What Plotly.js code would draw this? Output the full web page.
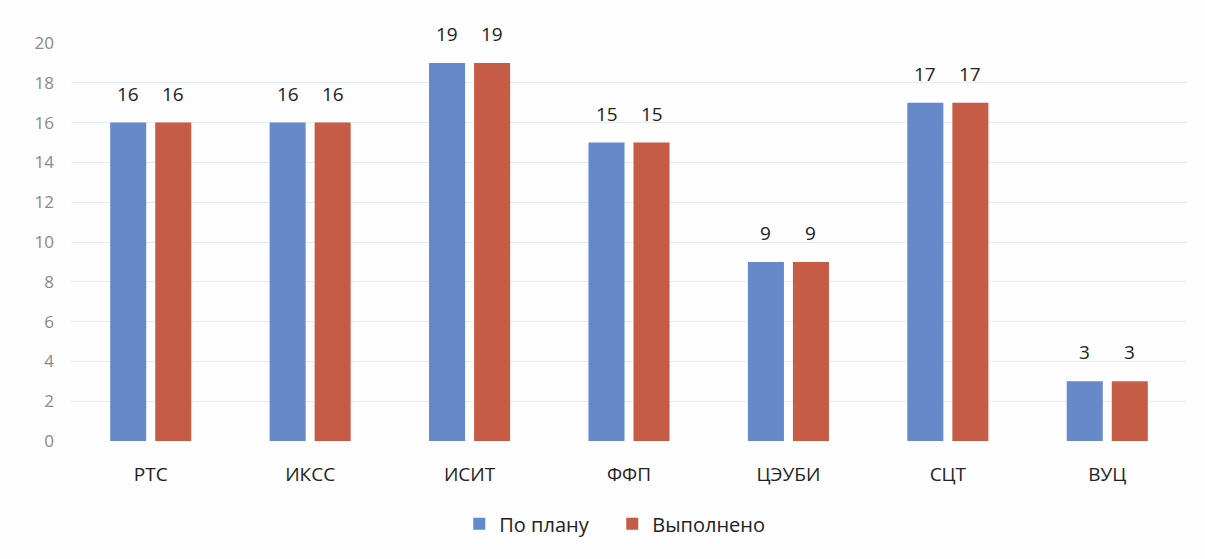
<!DOCTYPE html>
<html><head><meta charset="utf-8">
<script src="https://cdn.plot.ly/plotly-3.0.1.min.js"></script>
<style>html,body{margin:0;padding:0;background:#fff}#chart{width:1205px;height:559px}</style>
</head><body><div id="chart"></div>
<script>
const categories = ["РТС", "ИКСС", "ИСИТ", "ФФП", "ЦЭУБИ", "СЦТ", "ВУЦ"];
const planned = [16, 16, 19, 15, 9, 17, 3];
const done = [16, 16, 19, 15, 9, 17, 3];
const seriesNames = ["По плану", "Выполнено"];
const yTicks = [0, 2, 4, 6, 8, 10, 12, 14, 16, 18, 20];

const font = "Open Sans, Noto Sans, sans-serif";
const mk = (vals, name, color) => ({
  type: "bar", x: categories, y: vals, name: name,
  marker: {color: color}, hoverinfo: "skip"
});
const data = [mk(planned, seriesNames[0], "#6689C9"), mk(done, seriesNames[1], "#C65B46")];
const annotations = [];
[[planned, -22.5], [done, 22.5]].forEach(([vals, dx]) => {
  vals.forEach((v, i) => annotations.push({
    x: categories[i], y: v, xref: "x", yref: "y", text: String(v), showarrow: false,
    xshift: dx, yshift: 14, yanchor: "bottom",
    font: {family: font, size: 19, color: "#222"}
  }));
});
const layout = {
  width: 1205, height: 559,
  margin: {l: 71, r: 18, t: 43, b: 118},
  paper_bgcolor: "#fdfdfd", plot_bgcolor: "#fdfdfd",
  barmode: "group", bargap: 0.435, bargroupgap: 0.2,
  font: {family: font},
  annotations: annotations,
  xaxis: {tickfont: {family: font, size: 19, color: "#222"}, showline: false, ticks: "", showgrid: false, ticklabelstandoff: 20},
  yaxis: {range: [0, 20], tickvals: yTicks, ticktext: yTicks.map(String),
          tickfont: {family: font, size: 17, color: "#8a8a8a"},
          gridcolor: "#e6ecf2", gridwidth: 1, zeroline: false, showline: false, ticklabelstandoff: 16},
  legend: {orientation: "h", x: 0.485, xanchor: "center", y: -0.208, yanchor: "middle",
           font: {family: font, size: 20, color: "#222"}, itemwidth: 30, entrywidth: 108},
  showlegend: true
};
Plotly.newPlot("chart", data, layout, {displayModeBar: false, staticPlot: true});
</script></body></html>
